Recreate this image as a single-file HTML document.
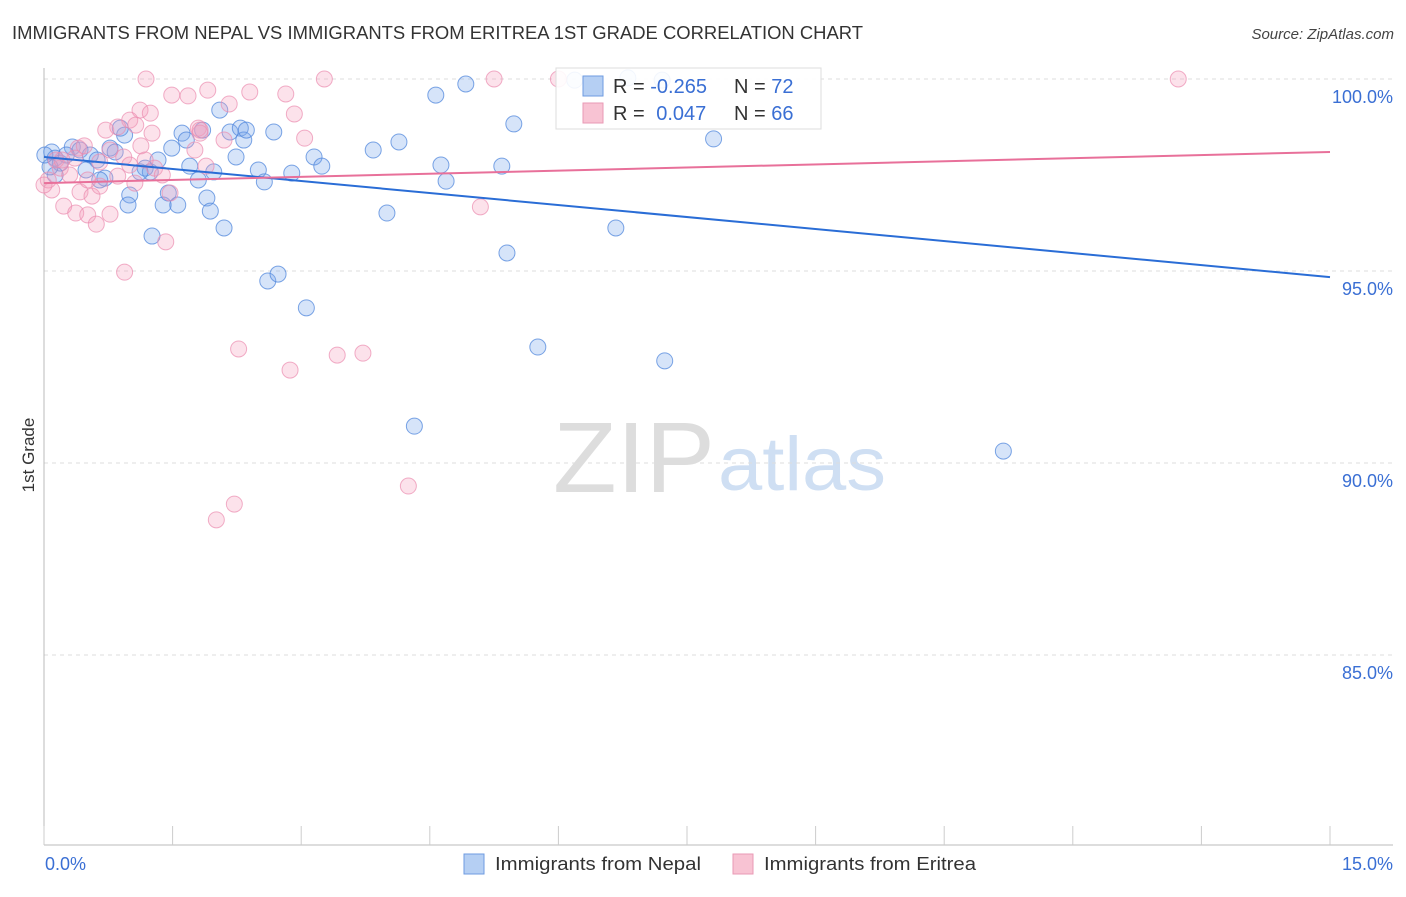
<!DOCTYPE html>
<html><head><meta charset="utf-8"><style>
body{margin:0;background:#fff;font-family:"Liberation Sans",sans-serif;}
svg text{font-family:"Liberation Sans",sans-serif;}
</style></head><body>
<svg id="chart" width="1406" height="892" xmlns="http://www.w3.org/2000/svg">
<text x="12" y="39" font-size="18" fill="#333" textLength="851" lengthAdjust="spacingAndGlyphs">IMMIGRANTS FROM NEPAL VS IMMIGRANTS FROM ERITREA 1ST GRADE CORRELATION CHART</text>
<text x="1394" y="39" font-size="15" fill="#444" text-anchor="end" font-style="italic">Source: ZipAtlas.com</text>
<text transform="translate(34,455) rotate(-90)" font-size="17" fill="#333" text-anchor="middle">1st Grade</text>
<g>
<text x="553" y="492" font-size="100" fill="#ddd" font-family="Liberation Serif,serif" textLength="162" lengthAdjust="spacingAndGlyphs">ZIP</text>
<text x="718" y="490" font-size="76" fill="#cfdff3" textLength="168" lengthAdjust="spacingAndGlyphs">atlas</text>
</g>
<g id="grid"></g><g id="pts"></g><g id="lines"></g>
<g>
<rect x="556" y="68" width="265" height="61" fill="#fff" fill-opacity="0.9" stroke="#ddd"/>
<rect x="583" y="76" width="20" height="20" fill="#b5cff3" stroke="#6e9be0"/>
<rect x="583" y="103" width="20" height="20" fill="#f8c3d3" stroke="#e99ab4"/>
<text x="613" y="93" font-size="20" fill="#333">R = <tspan fill="#3a6fd4">-0.265</tspan></text>
<text x="734" y="93" font-size="20" fill="#333">N = <tspan fill="#3a6fd4">72</tspan></text>
<text x="613" y="120" font-size="20" fill="#333">R = <tspan fill="#3a6fd4" dx="6">0.047</tspan></text>
<text x="734" y="120" font-size="20" fill="#333">N = <tspan fill="#3a6fd4">66</tspan></text>
</g>
<g>
<rect x="464" y="854" width="20" height="20" fill="#b5cff3" stroke="#6e9be0"/>
<text x="495" y="870" font-size="18" fill="#333" textLength="206" lengthAdjust="spacingAndGlyphs">Immigrants from Nepal</text>
<rect x="733" y="854" width="20" height="20" fill="#f8c3d3" stroke="#e99ab4"/>
<text x="764" y="870" font-size="18" fill="#333" textLength="212" lengthAdjust="spacingAndGlyphs">Immigrants from Eritrea</text>
</g>
</svg>
<script>
const xTicks=[0,1.5,3,4.5,6,7.5,9,10.5,12,13.5,15];
const yTicks=[100,95,90,85];
const yTickLabels=["100.0%","95.0%","90.0%","85.0%"];
const xEndLabels=["0.0%","15.0%"];
const nepalX=[.09,.13,.19,.33,.42,.26,.54,.62,.77,.94,.89,.83,.71,.65,1.00,.98,1.18,1.24,1.33,1.26,1.39,1.45,1.49,1.56,1.61,1.66,1.70,1.80,1.85,1.90,1.94,1.98,2.05,2.10,2.17,2.24,2.29,2.33,2.36,2.50,2.57,2.61,2.73,2.68,2.89,3.06,3.15,3.24,3.84,4.00,4.14,4.32,4.57,4.63,4.69,4.92,5.34,5.40,5.48,5.76,6.19,6.67,6.81,7.24,7.21,7.81,11.19,.13,.07,.49,1.12,.01];
const nepalY=[98.10,97.94,97.81,98.23,98.15,98.02,98.02,97.89,98.20,98.54,98.72,98.10,97.42,97.37,96.98,96.72,97.68,97.58,97.89,95.91,96.72,97.03,98.20,96.72,98.59,98.41,97.73,97.37,98.67,96.90,96.56,97.58,99.19,96.12,98.62,97.97,98.72,98.41,98.67,97.63,97.32,94.74,94.92,98.62,97.55,94.04,97.97,97.73,98.15,96.51,98.36,90.96,99.58,97.76,97.34,99.87,97.73,95.47,98.83,93.02,99.97,96.12,100.03,92.66,99.97,98.44,90.31,97.50,97.71,97.63,97.58,98.02];
const eritreaX=[1.19,1.91,1.49,1.68,2.16,2.40,2.82,3.27,5.25,6.00,13.23,1.12,1.24,1.00,1.07,.72,.40,.47,.86,1.26,1.13,.93,.65,.36,.19,.05,.09,.23,.37,.51,.61,.77,.42,.56,.65,.86,1.06,1.29,1.38,1.42,1.80,1.82,1.76,1.89,2.10,2.92,3.04,5.09,.94,2.27,2.87,3.42,3.72,4.25,2.01,2.22,1.47,.14,0,.30,.21,.77,.51,1.00,1.18,1.82];
const eritreaY=[100,99.71,99.58,99.56,99.35,99.66,99.61,100,100,100,100,99.19,99.11,98.93,98.80,98.67,98.20,98.26,98.75,98.59,98.26,97.97,97.84,97.94,97.68,97.37,97.11,96.69,96.51,96.46,96.22,96.48,97.06,96.95,97.21,97.47,97.29,97.68,97.50,95.76,98.72,98.59,98.15,97.73,98.41,99.09,98.46,96.67,94.97,92.97,92.42,92.81,92.86,89.40,88.52,88.93,97.03,97.89,97.24,97.50,97.89,98.15,97.37,97.76,97.89,98.67];
const nepalTrend=[97.97,94.84];
const eritreaTrend=[97.29,98.10];

const NS="http://www.w3.org/2000/svg";
const X0=44,X1=1330,Y0=79;
const sx=v=>X0+(v/15)*(X1-X0);
const sy=v=>Y0+(100-v)/5*192;
function mk(tag,attrs,parent){const e=document.createElementNS(NS,tag);for(const k in attrs)e.setAttribute(k,attrs[k]);parent.appendChild(e);return e;}
const grid=document.getElementById('grid');
yTicks.forEach((t,i)=>{
  const l=mk('line',{x1:X0,x2:1393,y1:sy(t),y2:sy(t),stroke:'#ddd','stroke-dasharray':'4,4'},grid);
  
  
  const tx=mk('text',{x:1393,y:sy(t)+24,'font-size':18,fill:'#3a6fd4','text-anchor':'end'},grid);
  tx.textContent=yTickLabels[i];
  
  
});
const ax=mk('line',{x1:X0,x2:X0,y1:68,y2:845,stroke:'#bbb'},grid);


const bx=mk('line',{x1:X0,x2:1393,y1:845,y2:845,stroke:'#bbb'},grid);


xTicks.forEach(t=>{
  const l=mk('line',{x1:sx(t),x2:sx(t),y1:826,y2:845,stroke:'#ccc'},grid);
  
  
});
const xl0=mk('text',{x:45,y:870,'font-size':18,fill:'#3a6fd4'},grid);xl0.textContent=xEndLabels[0];


const xl1=mk('text',{x:1393,y:870,'font-size':18,fill:'#3a6fd4','text-anchor':'end'},grid);xl1.textContent=xEndLabels[1];


const pts=document.getElementById('pts');
nepalX.forEach((x,i)=>{
  const c=mk('circle',{cx:sx(x),cy:sy(nepalY[i]),r:8,fill:'rgba(120,165,235,0.3)',stroke:'rgba(80,135,220,0.75)','stroke-width':1},pts);
  
  
});
eritreaX.forEach((x,i)=>{
  const c=mk('circle',{cx:sx(x),cy:sy(eritreaY[i]),r:8,fill:'rgba(245,160,190,0.3)',stroke:'rgba(235,140,175,0.7)','stroke-width':1},pts);
  
  
});
const lines=document.getElementById('lines');
const l1=mk('line',{x1:sx(0),y1:sy(nepalTrend[0]),x2:sx(15),y2:sy(nepalTrend[1]),stroke:'#2a6dd6','stroke-width':2},lines);


const l2=mk('line',{x1:sx(0),y1:sy(eritreaTrend[0]),x2:sx(15),y2:sy(eritreaTrend[1]),stroke:'#e8709a','stroke-width':2},lines);


</script>
</body></html>
